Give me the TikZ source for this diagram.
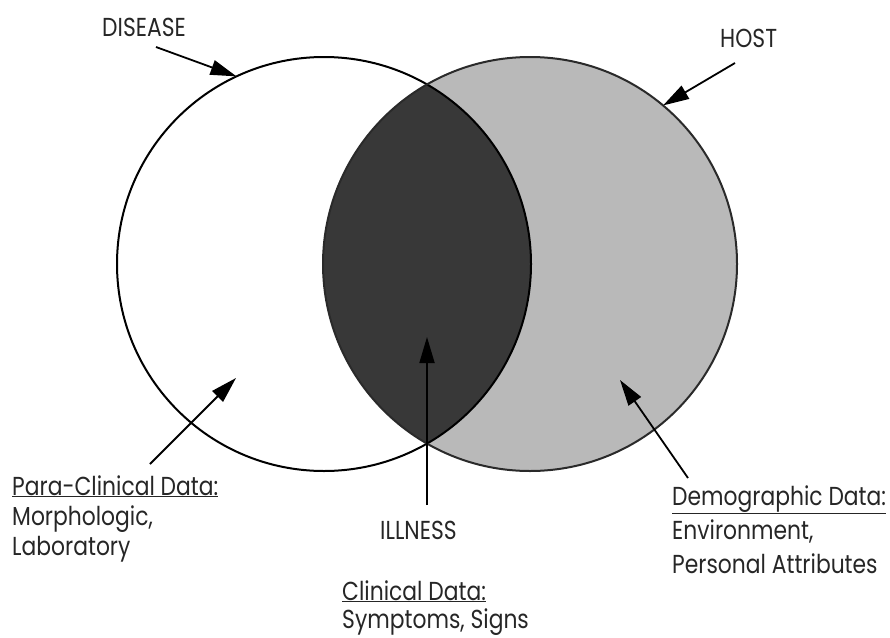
\documentclass[tikz,border=0pt]{standalone}
\usepackage{fontspec}
\setmainfont{Poppins}[FakeStretch=0.84]
\usetikzlibrary{arrows.meta}
\definecolor{lightfill}{HTML}{B9B9B9}
\definecolor{darkfill}{HTML}{383838}
\definecolor{rimdark}{HTML}{2A2A2A}
\begin{document}
\begin{tikzpicture}[x=1pt,y=-1pt,
  lbl/.style={font=\fontsize{26}{30}\selectfont, inner sep=0pt, anchor=base west, text=black!85},
  ptr/.style={-{Triangle[length=26pt,width=15pt]}, line width=1.8pt, draw=black},
  ring/.style={circle, minimum size=414pt, inner sep=0pt, outer sep=0pt, line width=2pt}]
\useasboundingbox (0,0) rectangle (890,637);
% fills
\fill[lightfill] (530,264) circle (207pt);
\begin{scope}
  \clip (324,264) circle (207pt);
  \fill[darkfill] (530,264) circle (207pt);
\end{scope}
% outlines
\node[ring, draw=black] (L) at (324,264) {};
\node[ring, draw=rimdark] (R) at (530,264) {};
% labels
\node[lbl] (disease) at (102,36) {DISEASE};
\node[lbl] (host) at (720,47) {HOST};
\node[lbl] (illness) at (380,539) {ILLNESS};
\node[lbl] (para1) at (12,495) {\underline{Para-Clinical Data:}};
\node[lbl] (para2) at (12,525) {Morphologic,};
\node[lbl] (para3) at (12,555) {Laboratory};
\node[lbl] (demo1) at (672,505) {\underline{Demographic Data:}};
\node[lbl] (demo2) at (672,539) {Environment,};
\node[lbl] (demo3) at (672,573) {Personal Attributes};
\node[lbl] (clin1) at (342,600) {\underline{Clinical Data:}};
\node[lbl] (clin2) at (342,628) {Symptoms, Signs};
% arrow ends
\coordinate (dtail) at (156,47);
\coordinate (htail) at (735,63);
\coordinate (ptail) at (150,464);
\coordinate (ptip) at (236,378);
\coordinate (gtail) at (688,478);
\coordinate (gtip) at (620,380);
\coordinate (itail) at (427,505);
\coordinate (itip) at (427,337);
\draw[ptr] (dtail) -- (L.115.6);
\draw[ptr] (htail) -- (R.50.4);
\draw[ptr] (ptail) -- (ptip);
\draw[ptr] (gtail) -- (gtip);
\draw[ptr] (itail) -- (itip);
\end{tikzpicture}
\end{document}
